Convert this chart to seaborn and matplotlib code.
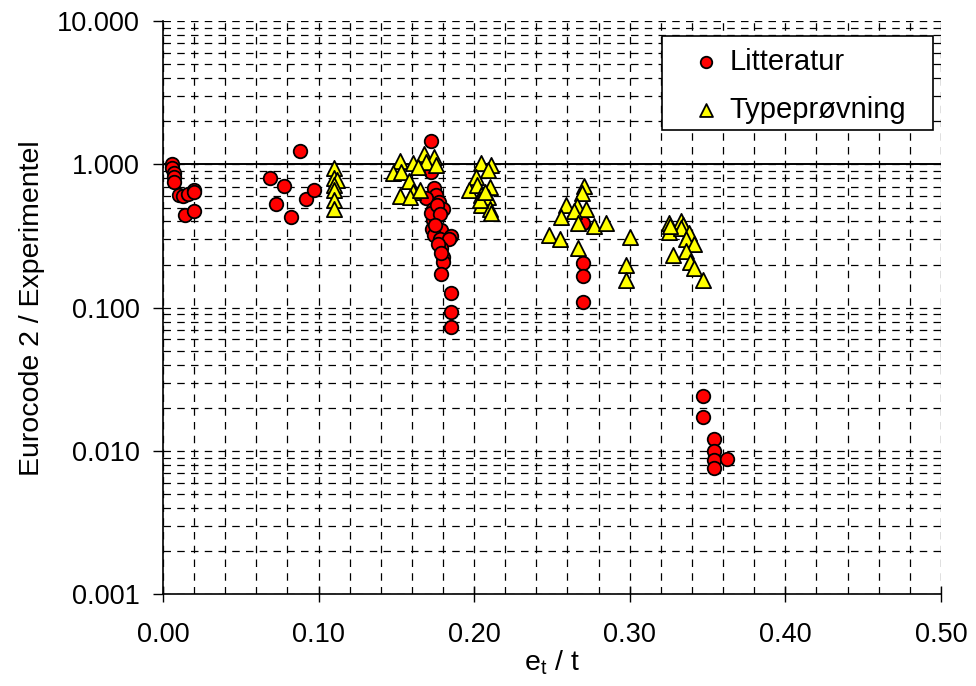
import matplotlib
matplotlib.use("Agg")
import matplotlib.pyplot as plt
from matplotlib.patches import Rectangle
from matplotlib.ticker import FixedLocator, MultipleLocator, FixedFormatter, LogLocator, NullFormatter
import seaborn as sns
import pandas as pd

# ---- data ----
lit_x = [0.006, 0.006, 0.007, 0.007, 0.007, 0.010, 0.013, 0.016, 0.020, 0.020, 0.014, 0.020,
         0.069, 0.0725, 0.0775, 0.0825, 0.088, 0.092, 0.097,
         0.172, 0.172, 0.174, 0.1755, 0.169, 0.1775, 0.180, 0.1735, 0.1745, 0.1735, 0.173,
         0.1785, 0.185, 0.1745, 0.178, 0.184, 0.1785, 0.180, 0.180, 0.1785, 0.185, 0.185, 0.185,
         0.172, 0.176, 0.178, 0.175, 0.177, 0.179,
         0.270, 0.270, 0.270, 0.270,
         0.347, 0.347, 0.354, 0.354, 0.354, 0.354, 0.3625]
lit_y = [1.00, 0.95, 0.87, 0.82, 0.75, 0.61, 0.60, 0.62, 0.66, 0.64, 0.445, 0.47,
         0.80, 0.53, 0.71, 0.43, 1.24, 0.57, 0.66,
         1.46, 0.89, 0.68, 0.61, 0.58, 0.55, 0.49, 0.49, 0.44, 0.41, 0.357,
         0.35, 0.316, 0.32, 0.30, 0.30, 0.26, 0.226, 0.209, 0.171, 0.127, 0.094, 0.073,
         0.46, 0.52, 0.45, 0.38, 0.28, 0.24,
         0.39, 0.206, 0.166, 0.11,
         0.0242, 0.0173, 0.0122, 0.0100, 0.00865, 0.00756, 0.00873]

typ_x = [0.110, 0.110, 0.112, 0.110, 0.110, 0.110, 0.110,
         0.1525, 0.148, 0.153, 0.1605, 0.158, 0.168, 0.1745, 0.169, 0.164, 0.1755, 0.1605,
         0.1525, 0.159, 0.165,
         0.2045, 0.211, 0.2087, 0.201, 0.197, 0.202, 0.210, 0.2045, 0.2087, 0.2045, 0.210,
         0.211, 0.204, 0.207,
         0.2708, 0.2693, 0.259, 0.266, 0.272, 0.2644, 0.256, 0.267, 0.2773, 0.2848, 0.248,
         0.255, 0.267, 0.3004, 0.2976, 0.2976,
         0.325, 0.333, 0.334, 0.325, 0.333, 0.338, 0.336, 0.341, 0.336, 0.328, 0.339, 0.341,
         0.347, 0.326]
typ_y = [0.95, 0.80, 0.78, 0.72, 0.66, 0.56, 0.49,
         1.06, 0.87, 0.89, 1.03, 0.77, 1.19, 1.13, 1.04, 0.96, 0.99, 0.64,
         0.60, 0.59, 0.66,
         1.02, 0.99, 0.91, 0.82, 0.66, 0.72, 0.70, 0.61, 0.59, 0.52, 0.49,
         0.455, 0.56, 0.64,
         0.71, 0.63, 0.52, 0.51, 0.49, 0.47, 0.43, 0.39, 0.37, 0.39, 0.32,
         0.30, 0.26, 0.31, 0.198, 0.156,
         0.39, 0.40, 0.38, 0.34, 0.36, 0.33, 0.30, 0.28, 0.25, 0.233, 0.21, 0.188,
         0.157, 0.37]

x_ticks = [0.0, 0.1, 0.2, 0.3, 0.4, 0.5]
x_labels = ["0.00", "0.10", "0.20", "0.30", "0.40", "0.50"]
y_ticks = [0.001, 0.01, 0.1, 1.0, 10.0]
y_labels = ["0.001", "0.010", "0.100", "1.000", "10.000"]

sns.set_style("white")
plt.rcParams["font.family"] = ["Liberation Sans", "DejaVu Sans"]
plt.rcParams["font.size"] = 20
for k in ["text.color", "axes.labelcolor", "xtick.color", "ytick.color"]:
    plt.rcParams[k] = "black"

fig = plt.figure(figsize=(9.76, 6.86), dpi=100)
ax = fig.add_axes([0.167, 0.1337, 0.797, 0.8355])

df_lit = pd.DataFrame({"x": lit_x, "y": lit_y})
df_typ = pd.DataFrame({"x": typ_x, "y": typ_y})

sns.scatterplot(data=df_lit, x="x", y="y", ax=ax, marker="o", s=95, color="#FF0000",
                edgecolor="black", linewidth=1.3, label="Litteratur", zorder=3, legend=False)
sns.scatterplot(data=df_typ, x="x", y="y", ax=ax, marker="^", s=120, color="#FFFF00",
                edgecolor="black", linewidth=1.3, label="Typeprøvning", zorder=4, legend=False)

ax.set_yscale("log")
ax.set_xlim(0, 0.5)
ax.set_ylim(0.001, 10)

ax.xaxis.set_major_locator(FixedLocator(x_ticks))
ax.xaxis.set_major_formatter(FixedFormatter(x_labels))
ax.xaxis.set_minor_locator(MultipleLocator(0.02))
ax.yaxis.set_major_locator(FixedLocator(y_ticks))
ax.yaxis.set_major_formatter(FixedFormatter(y_labels))
ax.yaxis.set_minor_locator(LogLocator(base=10, subs=range(2, 10)))
ax.yaxis.set_minor_formatter(NullFormatter())

ax.grid(True, which="both", color="black", linestyle=(0, (6, 5)), linewidth=0.9)
ax.axhline(1.0, color="black", linewidth=1.4, zorder=2)

for s in ["top", "right"]:
    ax.spines[s].set_visible(False)
for s in ["left", "bottom"]:
    ax.spines[s].set_color("black")
    ax.spines[s].set_linewidth(1.2)

ax.tick_params(axis="y", which="major", direction="out", length=7, width=1, color="black",
               labelsize=19.5, left=True, pad=10)
ax.tick_params(axis="x", which="major", direction="inout", length=12, width=1, color="black",
               labelsize=19.5, bottom=True, pad=14)
ax.tick_params(which="minor", length=0)

ax.set_xlabel(r"$\mathregular{e_t}$ / t", fontsize=20.5, labelpad=0)
ax.set_ylabel("Eurocode 2 / Experimentel", fontsize=20.5, labelpad=8)

# legend box
ax.add_patch(Rectangle((0.6414, 0.8098), 0.3483, 0.164, transform=ax.transAxes,
                       facecolor="white", edgecolor="black", linewidth=1.2, zorder=9))
leg = ax.legend(loc="center", bbox_to_anchor=(0.8156, 0.887), frameon=False,
                fontsize=21, markerscale=0.85, handletextpad=0.2,
                labelspacing=0.68, borderpad=0, handlelength=1.2, borderaxespad=0)
leg.set_zorder(10)

fig.savefig("out.png", dpi=100)
